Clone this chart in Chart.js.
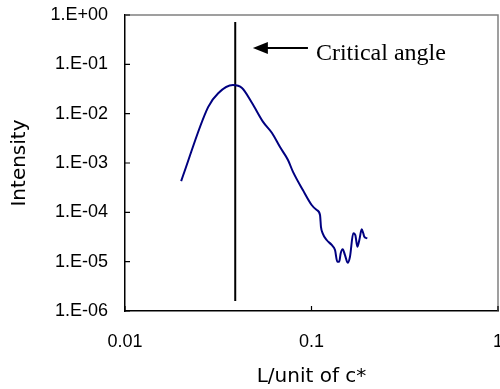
<!DOCTYPE html>
<html>
<head>
<meta charset="utf-8">
<script src="https://cdn.jsdelivr.net/npm/chart.js@4"></script>
<style>
  html, body { margin:0; padding:0; background:#fff; }
  #box { width:500px; height:389px; }
</style>
</head>
<body>
<div id="box"><canvas id="grafico"></canvas></div>
<script>
// L values (unit of c*) and intensity
const lValues = [0.0200, 0.0279, 0.0316, 0.0379, 0.0424, 0.0480, 0.0550, 0.0614, 0.0678, 0.0748, 0.0796,
  0.0899, 0.1002, 0.1067, 0.1111, 0.1124, 0.1148, 0.1206, 0.1283, 0.1337, 0.1375, 0.1409, 0.1434, 0.1470,
  0.1512, 0.1563, 0.1608, 0.1675, 0.1718, 0.1761, 0.1805, 0.1858, 0.1895, 0.1919, 0.1992]
const intensity = [4.3e-4, 1.36e-2, 2.6e-2, 3.8e-2, 3.3e-2, 1.64e-2, 6.8e-3, 4.05e-3, 2.1e-3, 1.15e-3, 6.6e-4,
  2.83e-4, 1.41e-4, 1.11e-4, 8.8e-5, 5.1e-5, 3.76e-5, 2.75e-5, 2.18e-5, 1.72e-5, 1.0e-5, 1.0e-5, 1.48e-5, 1.78e-5,
  1.36e-5, 9.5e-6, 1.26e-5, 3.76e-5, 3.47e-5, 2.01e-5, 2.75e-5, 4.53e-5, 3.76e-5, 3.2e-5, 2.97e-5]

// vertical marker for the critical angle
const criticalL = 0.039
const criticalLineY = [1.6e-6, 0.72]

// arrow + label
const arrowL = [0.0485, 0.0957]
const arrowY = 0.214
const arrowText = "Critical angle"

const xTicks = [0.01, 0.1, 1]
const xTickLabels = ["0.01", "0.1", "1"]
const yTicks = [1e-6, 1e-5, 1e-4, 1e-3, 1e-2, 1e-1, 1]
const yTickLabels = ["1.E-06", "1.E-05", "1.E-04", "1.E-03", "1.E-02", "1.E-01", "1.E+00"]

const sans = "'Liberation Sans', Arial, sans-serif"

const extras = {
  id: "extras",
  afterDraw(chart){
    const ctx = chart.ctx
    const a = chart.chartArea
    const x = chart.scales.x
    const y = chart.scales.y
    ctx.save()
    // grey frame top/right
    ctx.strokeStyle = "#808080"
    ctx.lineWidth = 1.5
    ctx.beginPath()
    ctx.moveTo(a.left, a.top)
    ctx.lineTo(a.right, a.top)
    ctx.lineTo(a.right, a.bottom)
    ctx.stroke()
    // inward ticks
    ctx.strokeStyle = "#000"
    ctx.lineWidth = 1.2
    ctx.beginPath()
    yTicks.forEach(v => {
      const py = y.getPixelForValue(v)
      ctx.moveTo(a.left, py); ctx.lineTo(a.left + 5, py)
    })
    xTicks.forEach(v => {
      const px = x.getPixelForValue(v)
      ctx.moveTo(px, a.bottom); ctx.lineTo(px, a.bottom - 5)
    })
    ctx.stroke()
    // arrow
    const x1 = x.getPixelForValue(arrowL[0])
    const x2 = x.getPixelForValue(arrowL[1])
    const py = y.getPixelForValue(arrowY)
    ctx.lineWidth = 2
    ctx.beginPath()
    ctx.moveTo(x1 + 10, py); ctx.lineTo(x2, py)
    ctx.stroke()
    ctx.fillStyle = "#000"
    ctx.beginPath()
    ctx.moveTo(x1, py)
    ctx.lineTo(x1 + 15, py - 6)
    ctx.lineTo(x1 + 15, py + 6)
    ctx.closePath()
    ctx.fill()
    ctx.font = "24px 'Liberation Serif', 'Times New Roman', serif"
    ctx.textBaseline = "middle"
    ctx.textAlign = "left"
    ctx.fillText(arrowText, x2 + 8, py + 6)
    ctx.restore()
  }
}

new Chart(document.getElementById("grafico"), {
  type: "scatter",
  data: {
    datasets: [
      {
        label: "Intensity",
        data: lValues.map((l, i) => ({ x: l, y: intensity[i] })),
        showLine: true,
        borderColor: "#000080",
        borderWidth: 2,
        pointRadius: 0,
        cubicInterpolationMode: "monotone",
      },
      {
        label: "Critical angle",
        data: criticalLineY.map(v => ({ x: criticalL, y: v })),
        showLine: true,
        borderColor: "#000",
        borderWidth: 2,
        pointRadius: 0,
      },
    ],
  },
  options: {
    responsive: true,
    maintainAspectRatio: false,
    animation: false,
    layout: { padding: { top: 15, right: 2, left: 0, bottom: 0 } },
    plugins: { legend: { display: false }, tooltip: { enabled: false } },
    scales: {
      x: {
        type: "logarithmic",
        min: 0.01,
        max: 1,
        afterBuildTicks: s => { s.ticks = xTicks.map(v => ({ value: v })) },
        afterFit: s => { s.height = 78; s.paddingLeft = 0; s.paddingRight = 0 },
        grid: { drawOnChartArea: false, drawTicks: false },
        border: { color: "#000", width: 1.5 },
        ticks: {
          color: "#000",
          padding: 20,
          maxRotation: 0,
          font: { family: sans, size: 18 },
          callback: (v, i) => xTickLabels[i],
        },
        title: {
          display: true,
          text: "L/unit of c*",
          color: "#000",
          padding: { top: 0, bottom: 0 },
          font: { family: "'DejaVu Sans', sans-serif", size: 20 },
        },
      },
      y: {
        type: "logarithmic",
        min: 1e-6,
        max: 1,
        afterBuildTicks: s => { s.ticks = yTicks.map(v => ({ value: v })) },
        afterFit: s => { s.width = 125; s.paddingTop = 0; s.paddingBottom = 0 },
        grid: { drawOnChartArea: false, drawTicks: false },
        border: { color: "#000", width: 1.5 },
        ticks: {
          color: "#000",
          padding: 17,
          font: { family: sans, size: 18 },
          callback: (v, i) => yTickLabels[i],
        },
        title: {
          display: true,
          text: "Intensity",
          color: "#000",
          padding: { top: 8, bottom: 0 },
          font: { family: "'DejaVu Sans', sans-serif", size: 20 },
        },
      },
    },
  },
  plugins: [extras],
})
</script>
</body>
</html>
